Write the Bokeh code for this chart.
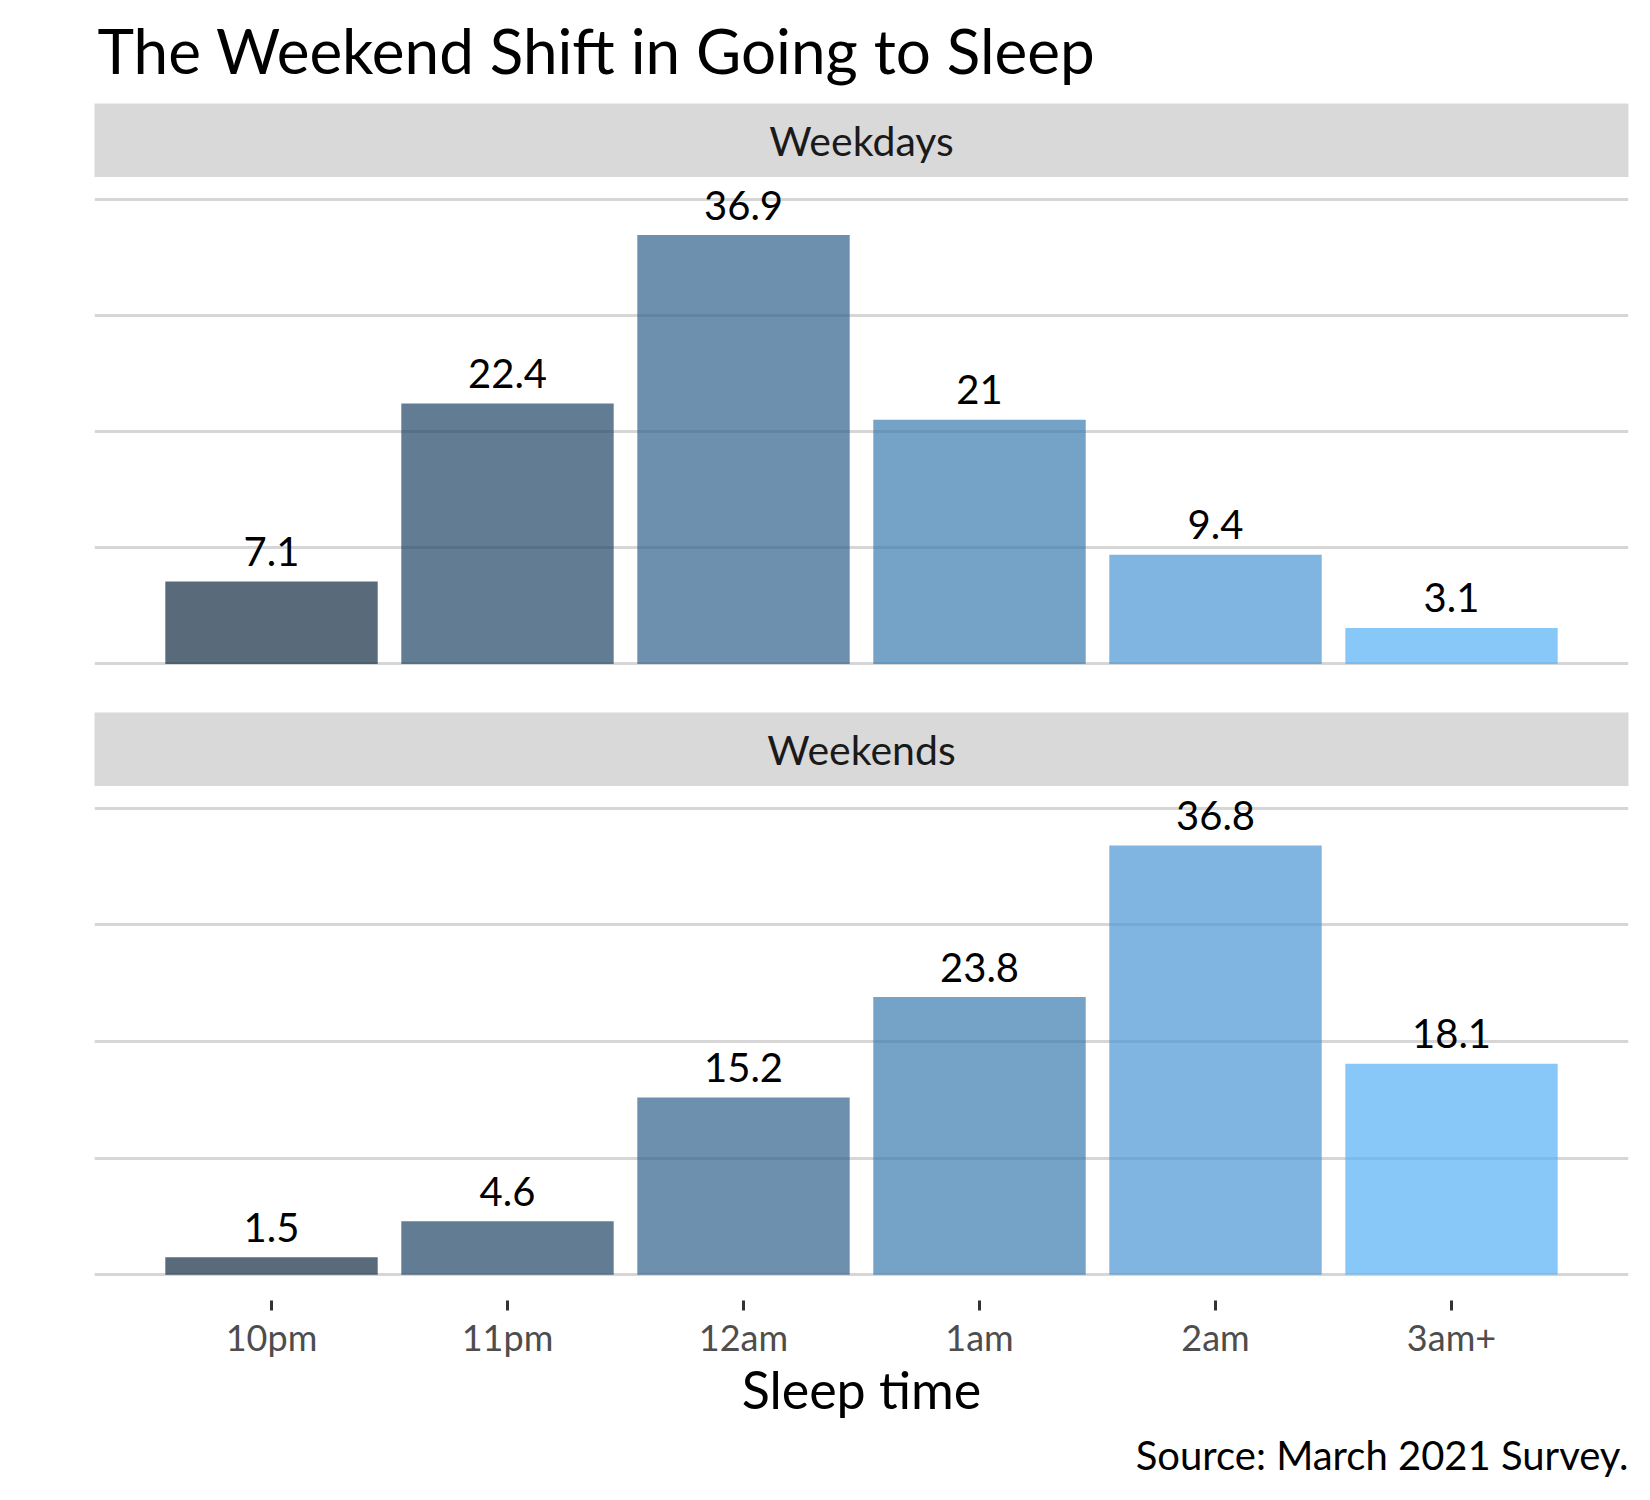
from bokeh.plotting import figure
from bokeh.models import ColumnDataSource, Range1d, FactorRange, Label, FixedTicker, Grid
from bokeh.layouts import column
from bokeh.embed import file_html
from bokeh.resources import INLINE
from bokeh.core.properties import value

# ---- data ----
title_text = "The Weekend Shift in Going to Sleep"
facets = ["Weekdays", "Weekends"]
sleep_times = ["10pm", "11pm", "12am", "1am", "2am", "3am+"]
weekdays = [7.1, 22.4, 36.9, 21.0, 9.4, 3.1]
weekends = [1.5, 4.6, 15.2, 23.8, 36.8, 18.1]
y_ticks = [0, 10, 20, 30, 40]
x_title = "Sleep time"
source_note = "Source: March 2021 Survey."

# ---- style ----
bar_colors = ["#132B43", "#204567", "#2E618B", "#3B7BAF", "#4996D3", "#56B1F7"]
FONT = "Lato"
LEFT = 94
RIGHT = 22
FW = 1534
STRIP_BG = "#D9D9D9"
GRID_COL = "#D6D6D6"


def base(fh, mb=0, **kw):
    p = figure(frame_width=FW, frame_height=fh, output_backend="svg", toolbar_location=None,
               title=None, min_border_left=LEFT, min_border_right=RIGHT,
               min_border_top=0, min_border_bottom=mb, **kw)
    p.grid.visible = False
    p.outline_line_color = None
    p.border_fill_color = "white"
    p.background_fill_color = "white"
    return p


# header with title
header = base(103, x_range=Range1d(0, FW), y_range=Range1d(0, 103),
              x_axis_location=None, y_axis_location=None)
header.add_layout(Label(x=3, y=54, text=title_text, text_font=FONT, text_font_size="62px",
                        text_color="black", text_baseline="alphabetic", text_align="left"))


def strip(name):
    p = base(74, x_range=Range1d(0, 1), y_range=Range1d(0, 1),
             x_axis_location=None, y_axis_location=None)
    p.background_fill_color = STRIP_BG
    p.add_layout(Label(x=0.5, y=0.5, text=name, text_font=FONT, text_font_size="41px",
                       text_color="#1A1A1A", text_align="center", text_baseline="middle"))
    return p


def panel(vals, fh, mb, show_axis):
    src = ColumnDataSource(dict(x=sleep_times, top=vals, color=bar_colors,
                                label=[f"{v:g}" for v in vals]))
    p = base(fh, mb,
             x_range=FactorRange(factors=sleep_times, range_padding=0.25,
                                 range_padding_units="absolute"),
             y_range=Range1d(-2.2, 41.85),
             x_axis_location="below" if show_axis else None, y_axis_location=None)
    p.add_layout(Grid(dimension=1, ticker=FixedTicker(ticks=y_ticks),
                      grid_line_color=GRID_COL, grid_line_width=3), "center")
    p.vbar(x="x", top="top", bottom=0, width=0.9, fill_color="color", fill_alpha=0.7,
           line_color=None, source=src)
    p.text(x="x", y="top", text="label", text_align="center", text_baseline="alphabetic",
           y_offset=-30, text_font=value(FONT), text_font_size="40px", text_color="black",
           source=src)
    if show_axis:
        ax = p.xaxis[0]
        ax.axis_line_color = None
        ax.major_tick_in = 0
        ax.major_tick_out = 10
        ax.major_tick_line_width = 3
        ax.major_tick_line_color = "#333333"
        ax.minor_tick_line_color = None
        ax.major_label_text_font = FONT
        ax.major_label_text_font_size = "36px"
        ax.major_label_text_color = "#4D4D4D"
        ax.major_label_standoff = 4
        ax.axis_label = x_title
        ax.axis_label_text_font = FONT
        ax.axis_label_text_font_size = "52px"
        ax.axis_label_text_font_style = "normal"
        ax.axis_label_text_color = "black"
        ax.axis_label_standoff = -4
    return p


strip1 = strip(facets[0])
panel1 = panel(weekdays, 512, 23, False)
strip2 = strip(facets[1])
panel2 = panel(weekends, 514, 130, True)

footer = base(70, x_range=Range1d(0, FW), y_range=Range1d(0, 70),
              x_axis_location=None, y_axis_location=None)
footer.add_layout(Label(x=FW, y=46, text=source_note, text_font=FONT, text_font_size="40px",
                        text_color="black", text_baseline="alphabetic", text_align="right"))

layout = column(header, strip1, panel1, strip2, panel2, footer, spacing=0)

open("out.html", "w").write(file_html(layout, INLINE))
